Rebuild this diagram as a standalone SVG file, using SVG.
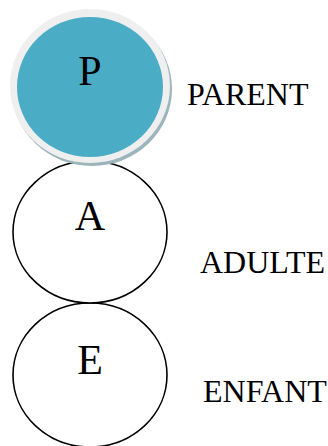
<svg xmlns="http://www.w3.org/2000/svg" width="328" height="446" viewBox="0 0 328 446">
<style>
.lbl{font-family:"Liberation Serif","Times New Roman",serif;fill:#000}
.big{font-size:42px;text-anchor:middle}
.side{font-size:32px}
.ring{fill:#fff;stroke:#000;stroke-width:1.6}
</style>
<rect width="328" height="446" fill="#fff"/>
<g id="connectors"></g>
<g id="node-E">
<ellipse class="ring" cx="90" cy="375" rx="77" ry="72"/>
<text class="lbl big" x="90" y="374">E</text>
</g>
<g id="node-A">
<ellipse class="ring" cx="90" cy="232" rx="77" ry="71"/>
<text class="lbl big" x="90" y="230">A</text>
</g>
<g id="node-P">
<ellipse cx="92" cy="89" rx="80" ry="77" fill="#9cb4bb"/>
<ellipse cx="90" cy="86" rx="80" ry="77" fill="#efefef"/>
<ellipse cx="90" cy="87" rx="73" ry="70" fill="#4bacc6"/>
<text class="lbl big" x="90" y="85">P</text>
</g>
<g id="labels">
<text class="lbl side" x="187" y="105">PARENT</text>
<text class="lbl side" x="200" y="273">ADULTE</text>
<text class="lbl side" x="203" y="402">ENFANT</text>
</g>
</svg>
